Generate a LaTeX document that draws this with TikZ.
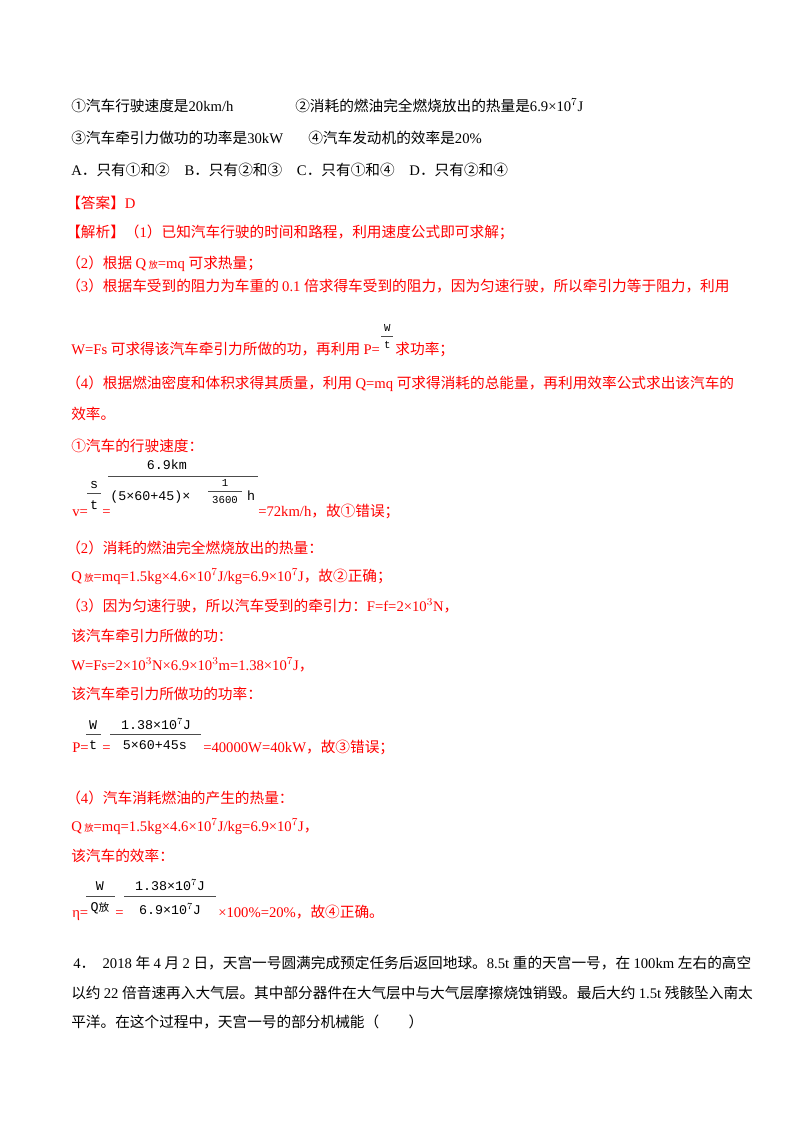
\documentclass[tikz,border=0pt]{standalone}
\usepackage{fontspec}
\usetikzlibrary{calc}
\setmainfont{Liberation Serif}
\newfontfamily\cjk{Noto Sans CJK SC}
\newfontfamily\fracfont{Liberation Mono}
\newcount\cjkchar
\newcommand{\setcjkclass}[2]{%
  \cjkchar=#1\relax
  \loop
    \XeTeXcharclass\cjkchar=1\relax
    \advance\cjkchar by 1\relax
  \ifnum\cjkchar<#2\repeat}
\setcjkclass{"4E00}{"A000}
\setcjkclass{"3000}{"3040}
\setcjkclass{"FF00}{"FFF0}
\setcjkclass{"2460}{"2474}
\XeTeXinterchartokenstate=1
\XeTeXinterchartoks 0 1 = {\cjk}
\XeTeXinterchartoks 4095 1 = {\cjk}
\XeTeXinterchartoks 1 0 = {\rmfamily}
\XeTeXinterchartoks 4095 0 = {\rmfamily}
\newcommand{\monotext}{\XeTeXinterchartokenstate=0 \fracfont}
\definecolor{ansred}{RGB}{255,0,0}
\begin{document}
\begin{tikzpicture}[x=0.75pt,y=-0.75pt,
    line/.style={anchor=base west,inner sep=0pt,font=\fontsize{11}{13}\selectfont},
    redline/.style={line,text=ansred},
    frac/.style={inner sep=0pt,font=\monotext\fontsize{10}{12}\selectfont},
    smallfrac/.style={inner sep=0pt,font=\monotext\fontsize{8}{10}\selectfont},
    bar/.style={draw=black!70,line width=0.5pt}]
  \useasboundingbox (0,0) rectangle (800,1132);

  % question options
  \node[line] (o1) at (71,111) {①汽车行驶速度是20km/h};
  \node[line] (o2) at (295,111) {②消耗的燃油完全燃烧放出的热量是6.9×10$^7$J};
  \node[line] (o3) at (71,143) {③汽车牵引力做功的功率是30kW};
  \node[line] (o4) at (308,143) {④汽车发动机的效率是20\%};
  \node[line] (ch) at (71,175) {A．只有①和②\quad B．只有②和③\quad C．只有①和④\quad D．只有②和④};

  % answer and analysis
  \node[redline] (ans) at (66,208) {【答案】D};
  \node[redline] (a1) at (66,237) {【解析】（1）已知汽车行驶的时间和路程，利用速度公式即可求解；};
  \node[redline] (a2) at (66,268) {（2）根据 Q\,{\fontsize{7}{8}\selectfont 放}=mq 可求热量；};
  \node[redline] (a3) at (66,291) {（3）根据车受到的阻力为车重的 0.1 倍求得车受到的阻力，因为匀速行驶，所以牵引力等于阻力，利用};
  \node[redline] (a3b) at (71,354) {W=Fs 可求得该汽车牵引力所做的功，再利用 P=};
  \node[smallfrac] (pw) at ($(a3b.base east)+(7,-26)$) {W};
  \node[smallfrac] (pt) at ($(a3b.base east)+(7,-9)$) {t};
  \draw[bar] ($(a3b.base east)+(1,-18)$) -- ($(a3b.base east)+(13,-18)$);
  \node[redline] (a3c) at ($(a3b.base east)+(15,0)$) {求功率；};
  \node[redline] (a4) at (66,388) {（4）根据燃油密度和体积求得其质量，利用 Q=mq 可求得消耗的总能量，再利用效率公式求出该汽车的};
  \node[redline] (a4b) at (71,419) {效率。};

  % speed
  \node[redline] (s1) at (71,451) {①汽车的行驶速度：};
  \node[redline] (veq) at (72,516) {v=};
  \node[frac] (vs) at (94,485) {s};
  \node[frac] (vt) at (94,505) {t};
  \draw[bar] (87,493) -- (101,493);
  \node[redline] (veq2) at (102,516) {=};
  \node[frac] (vnum) at (167,465) {6.9km};
  \draw[bar] (108,476) -- (258,476);
  \node[frac,anchor=west] (vden) at (110,497) {(5×60+45)×};
  \node[smallfrac] (v1) at (225,483) {1};
  \node[smallfrac] (v3600) at (225,500) {3600};
  \draw[bar] (208,491) -- (242,491);
  \node[frac] (vh) at (251,496) {h};
  \node[redline] (vres) at (258,516) {=72km/h，故①错误；};

  % heat
  \node[redline] (h1) at (66,553) {（2）消耗的燃油完全燃烧放出的热量：};
  \node[redline] (h2) at (71,581) {Q\,{\fontsize{7}{8}\selectfont 放}=mq=1.5kg×4.6×10$^7$J/kg=6.9×10$^7$J，故②正确；};

  % force and work
  \node[redline] (f1) at (66,611) {（3）因为匀速行驶，所以汽车受到的牵引力：F=f=2×10$^3$N，};
  \node[redline] (f2) at (71,641) {该汽车牵引力所做的功：};
  \node[redline] (f3) at (71,670) {W=Fs=2×10$^3$N×6.9×10$^3$m=1.38×10$^7$J，};
  \node[redline] (f4) at (71,699) {该汽车牵引力所做功的功率：};
  \node[redline] (peq) at (72,752) {P=};
  \node[frac] (pw2) at (93,725) {W};
  \node[frac] (pt2) at (93,745) {t};
  \draw[bar] (86,734) -- (101,734);
  \node[redline] (peq2) at (102,752) {=};
  \node[frac] (pnum) at (156,724) {1.38×10$^7$J};
  \draw[bar] (110,734) -- (201,734);
  \node[frac] (pden) at (155,745) {5×60+45s};
  \node[redline] (pres) at (203,752) {=40000W=40kW，故③错误；};

  % efficiency
  \node[redline] (e1) at (66,803) {（4）汽车消耗燃油的产生的热量：};
  \node[redline] (e2) at (71,831) {Q\,{\fontsize{7}{8}\selectfont 放}=mq=1.5kg×4.6×10$^7$J/kg=6.9×10$^7$J，};
  \node[redline] (e3) at (71,861) {该汽车的效率：};
  \node[redline] (etaeq) at (72,917) {η=};
  \node[frac] (ew) at (100,886) {W};
  \node[frac] (eq) at (100,908) {Q{\cjk\fontsize{8}{9}\selectfont 放}};
  \draw[bar] (86,896) -- (115,896);
  \node[redline] (eeq2) at (115,917) {=};
  \node[frac] (enum) at (170,885) {1.38×10$^7$J};
  \draw[bar] (124,896) -- (216,896);
  \node[frac] (eden) at (170,909) {6.9×10$^7$J};
  \node[redline] (eres) at (218,917) {×100\%=20\%，故④正确。};

  % next question
  \node[line] (q4a) at (73,968) {4．\enspace 2018 年 4 月 2 日，天宫一号圆满完成预定任务后返回地球。8.5t 重的天宫一号，在 100km 左右的高空};
  \node[line] (q4b) at (71,998) {以约 22 倍音速再入大气层。其中部分器件在大气层中与大气层摩擦烧蚀销毁。最后大约 1.5t 残骸坠入南太};
  \node[line] (q4c) at (71,1027) {平洋。在这个过程中，天宫一号的部分机械能（\qquad）};
\end{tikzpicture}
\end{document}
